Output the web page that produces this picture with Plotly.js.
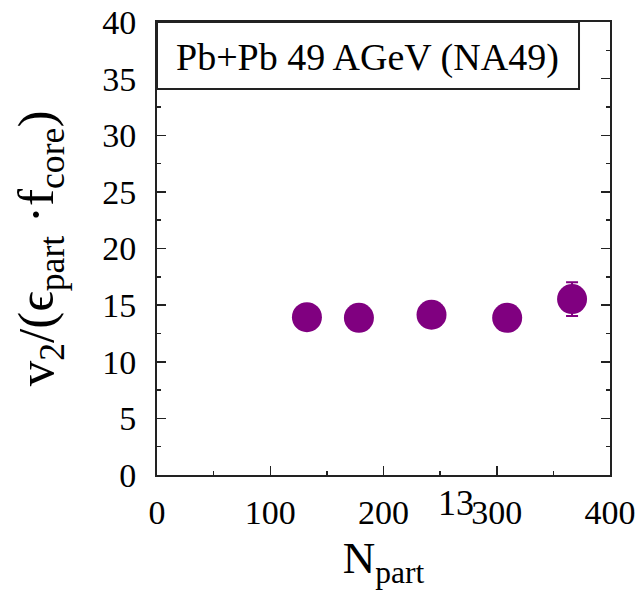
<!DOCTYPE html>
<html>
<head>
<meta charset="utf-8">
<script src="https://cdn.plot.ly/plotly-3.0.1.min.js"></script>
<style>
  html, body { margin: 0; padding: 0; background: #fff; }
  #chart { width: 637px; height: 595px; }
</style>
</head>
<body>
<div id="chart"></div>
<script>
// Elliptic flow scaled by participant eccentricity and core fraction, NA49 Pb+Pb 49 AGeV
const nPart = [132.4, 178.3, 242.4, 309.2, 366.5];
const v2Scaled = [13.94, 13.88, 14.15, 13.88, 15.53];
const v2Err = [0, 0, 0, 0, 1.5];

const xTickVals = [0, 100, 200, 300, 400];
const yTickVals = [0, 5, 10, 15, 20, 25, 30, 35, 40];

const systemLabel = 'Pb+Pb 49 AGeV (NA49)';
const energyLabel = '13';

const serif = 'Liberation Serif, Times New Roman, DejaVu Serif, serif';
const purple = '#800080';
const frame = '#222';

const trace = {
  x: nPart,
  y: v2Scaled,
  type: 'scatter',
  mode: 'markers',
  marker: { size: 30, color: purple },
  error_y: { type: 'data', array: v2Err, visible: true, color: purple, thickness: 2, width: 6 },
  showlegend: false,
  hoverinfo: 'x+y'
};

const axisCommon = {
  showgrid: false,
  zeroline: false,
  showline: true,
  linecolor: frame,
  linewidth: 2,
  mirror: 'ticks',
  ticks: 'inside',
  ticklen: 9,
  tickwidth: 1.5,
  tickcolor: frame,
  tickfont: { family: serif, size: 34, color: '#000' },
  automargin: false
};

const layout = {
  width: 637,
  height: 595,
  margin: { l: 157, r: 27, t: 22, b: 120 },
  paper_bgcolor: '#fff',
  plot_bgcolor: '#fff',
  xaxis: Object.assign({}, axisCommon, {
    range: [0, 400],
    tickmode: 'array',
    tickvals: xTickVals,
    ticktext: xTickVals.map(String),
    ticklabelstandoff: 6,
    minor: { dtick: 50, ticks: 'inside', ticklen: 4, tickwidth: 1.5, tickcolor: frame, showgrid: false },
    title: {
      text: 'N<sub>part</sub>',
      font: { family: serif, size: 45, color: '#000' },
      standoff: 12
    }
  }),
  yaxis: Object.assign({}, axisCommon, {
    range: [0, 40],
    tickmode: 'array',
    tickvals: yTickVals,
    ticktext: yTickVals.map(String),
    ticklabelstandoff: 12,
    minor: { dtick: 2.5, ticks: 'inside', ticklen: 4, tickwidth: 1.5, tickcolor: frame, showgrid: false },
    title: {
      text: 'v<sub>2</sub>/(ϵ<sub>part</sub> ·f<sub>core</sub>)',
      font: { family: serif, size: 51, color: '#000' },
      standoff: 32
    }
  }),
  shapes: [{
    type: 'rect',
    xref: 'paper', yref: 'paper',
    x0: 0, x1: 0.9316, y0: 0.852, y1: 1,
    line: { color: frame, width: 2 },
    fillcolor: '#fff',
    layer: 'above'
  }],
  annotations: [
    {
      xref: 'paper', yref: 'paper',
      x: 0.4636, y: 0.9227,
      xanchor: 'center', yanchor: 'middle',
      text: systemLabel,
      showarrow: false,
      font: { family: serif, size: 38, color: '#000' }
    },
    {
      xref: 'x', yref: 'paper',
      x: 264, y: -0.062,
      xanchor: 'center', yanchor: 'middle',
      text: energyLabel,
      showarrow: false,
      font: { family: serif, size: 36, color: '#000' }
    }
  ]
};

Plotly.newPlot('chart', [trace], layout, { displayModeBar: false, staticPlot: true });
</script>
</body>
</html>
